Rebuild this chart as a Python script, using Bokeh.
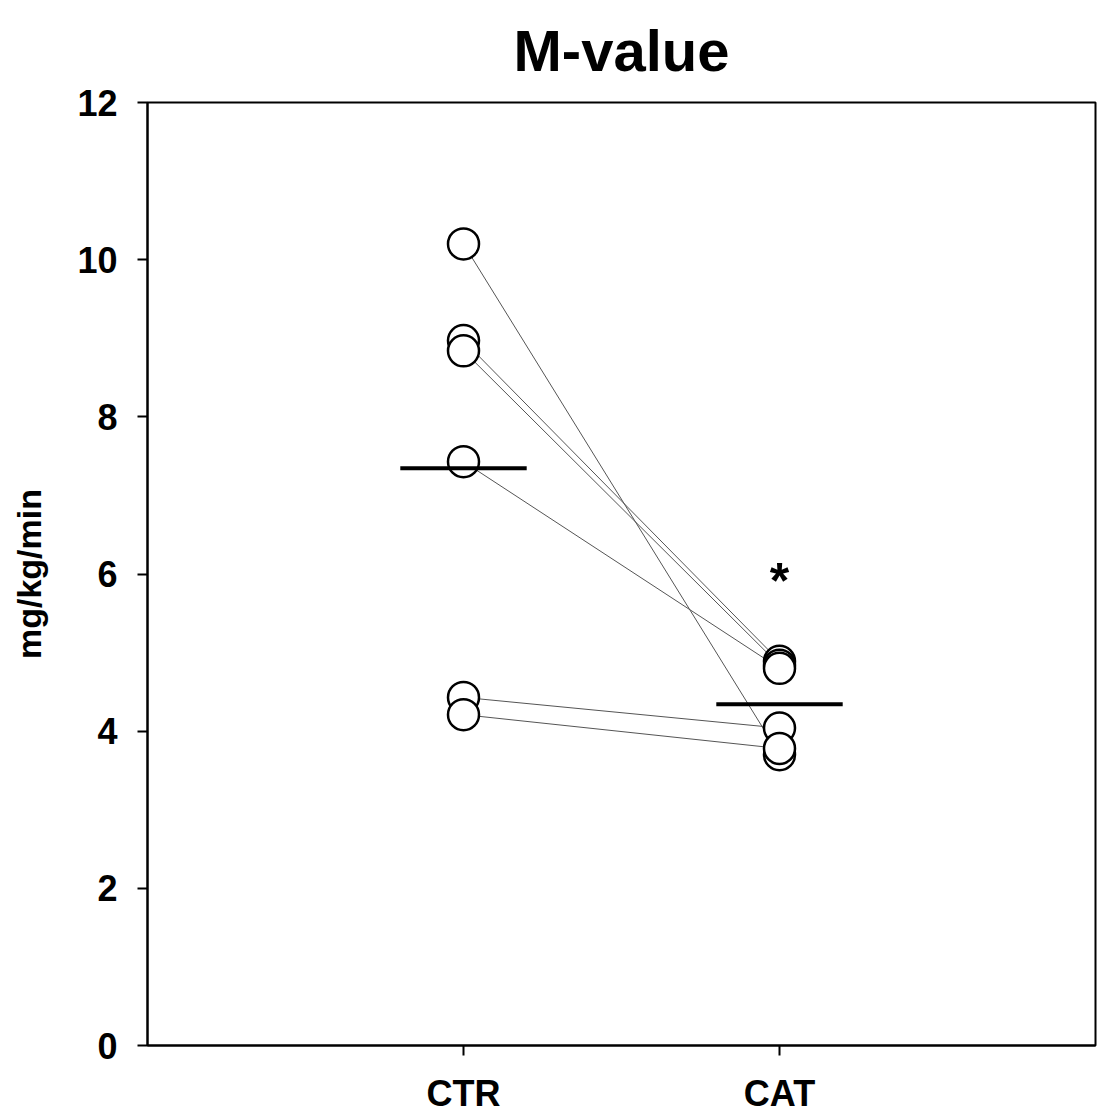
import numpy as np
from bokeh.plotting import figure
from bokeh.models import Range1d, FixedTicker, ColumnDataSource
from bokeh.core.properties import value
from bokeh.embed import file_html
from bokeh.resources import INLINE

categories = ["CTR", "CAT"]
ctr_values = [10.2, 8.97, 8.84, 7.43, 4.43, 4.21]
cat_values = [3.70, 4.89, 4.84, 4.80, 4.04, 3.78]
y_ticks = [0, 2, 4, 6, 8, 10, 12]
sig_marker = ["*"]
sig_y = [6.05]
title_text = "M-value"

FONT = "Liberation Sans"
cat_pos = {c: i + 1 for i, c in enumerate(categories)}

p = figure(width=1100, height=1116, output_backend="svg", toolbar_location=None,
           x_range=Range1d(0, 3), y_range=Range1d(0, 12),
           min_border_left=147, min_border_right=5, min_border_top=102, min_border_bottom=69)

p.title.text = title_text
p.title.align = "center"
p.title.vertical_align = "top"
p.title.standoff = 35
p.title.text_line_height = 0.6
p.title.text_font = FONT
p.title.text_font_size = "58px"
p.title.text_font_style = "bold"
p.title.text_color = "black"

p.grid.visible = False
p.outline_line_color = "black"
p.outline_line_width = 2
p.background_fill_color = "white"
p.border_fill_color = "white"

for ax in (p.xaxis[0], p.yaxis[0]):
    ax.axis_line_color = "black"
    ax.axis_line_width = 2
    ax.major_tick_line_color = "black"
    ax.major_tick_line_width = 2
    ax.major_tick_out = 10
    ax.major_tick_in = 0
    ax.minor_tick_line_color = None
    ax.major_label_text_font = FONT
    ax.major_label_text_font_size = "36px"
    ax.major_label_text_font_style = "bold"
    ax.major_label_text_color = "black"

p.yaxis.ticker = FixedTicker(ticks=y_ticks)
p.yaxis.major_label_standoff = 20
p.yaxis.axis_label = "mg/kg/min"
p.yaxis.axis_label_text_font = FONT
p.yaxis.axis_label_text_font_size = "34px"
p.yaxis.axis_label_text_font_style = "bold"
p.yaxis.axis_label_text_color = "black"
p.yaxis.axis_label_standoff = 26

p.xaxis.ticker = FixedTicker(ticks=[cat_pos[c] for c in categories])
p.xaxis.major_label_overrides = {cat_pos[c]: c for c in categories}
p.xaxis.major_label_standoff = 17

x_ctr = cat_pos["CTR"]
x_cat = cat_pos["CAT"]

# paired lines
xs = [[x_ctr, x_cat] for _ in ctr_values]
ys = [[a, b] for a, b in zip(ctr_values, cat_values)]
p.multi_line(xs, ys, line_color="#555555", line_width=1)

# points
p.scatter([x_ctr] * len(ctr_values), ctr_values, size=31, fill_color="white",
          line_color="black", line_width=2.5)
p.scatter([x_cat] * len(cat_values), cat_values, size=31, fill_color="white",
          line_color="black", line_width=2.5)

# mean lines
half = 0.2
means = [float(np.mean(ctr_values)), float(np.mean(cat_values))]
p.segment(x0=[x_ctr - half, x_cat - half], y0=means,
          x1=[x_ctr + half, x_cat + half], y1=means,
          line_color="black", line_width=4)

# significance marker
src = ColumnDataSource(dict(x=[x_cat], y=sig_y, t=sig_marker))
p.text(x="x", y="y", text="t", source=src, text_font=value(FONT),
       text_font_size="50px", text_font_style="bold", text_align="center",
       text_baseline="middle", y_offset=11, text_color="black")

open("out.html", "w").write(file_html(p, INLINE))
